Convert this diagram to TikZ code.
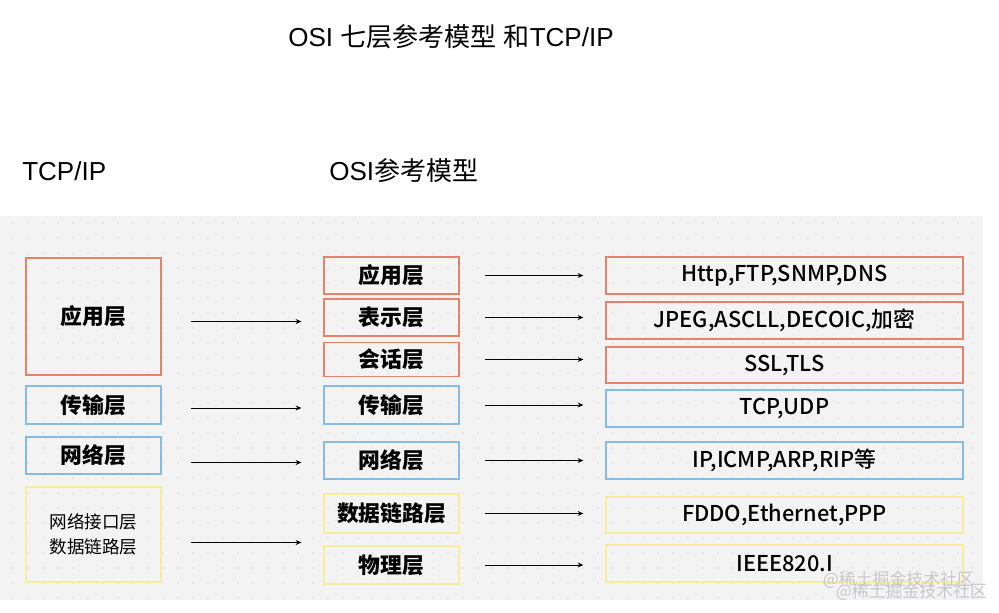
\documentclass[tikz,border=0pt]{standalone}
\usepackage{fontspec}
\setmainfont{Liberation Sans}
\newfontfamily\cjk{Noto Sans CJK SC}
\newfontfamily\cjkmed{Noto Sans CJK SC Medium}
\usetikzlibrary{arrows.meta, positioning}
\definecolor{LayerRed}{HTML}{E5826C}
\definecolor{LayerBlue}{HTML}{86BBE6}
\definecolor{LayerYellow}{HTML}{F6EC9C}
\definecolor{PanelGray}{HTML}{F3F3F4}
\definecolor{DotGray}{HTML}{C9C9CD}
\definecolor{MarkGray}{HTML}{C8C8CC}
\tikzset{
    % Layer boxes - sharp corners, no fill
    tcpbox/.style={
        rectangle,
        line width=0.9pt,
        minimum width=3.375cm,
        inner sep=0pt,
        align=center,
        font=\cjk\bfseries\fontsize{15.5}{19}\selectfont
    },
    osibox/.style={
        rectangle,
        line width=0.9pt,
        minimum width=3.375cm,
        minimum height=0.925cm,
        inner sep=0pt,
        font=\cjk\bfseries\fontsize{15.5}{19}\selectfont
    },
    protobox/.style={
        rectangle,
        line width=0.9pt,
        minimum width=8.925cm,
        minimum height=0.925cm,
        inner sep=0pt,
        font=\cjkmed\fontsize{15.5}{18}\selectfont
    },
    % Arrow styles
    maparrow/.style={
        -{Stealth[length=4pt,width=3.5pt]},
        line width=0.6pt,
        black
    },
    heading/.style={
        font=\fontsize{18.5}{22}\selectfont,
        inner sep=0pt
    }
}
\begin{document}
\begin{tikzpicture}[x=0.025cm, y=-0.025cm]
    \useasboundingbox (0,0) rectangle (999,612);

    % Headings
    \node[heading] (title) at (451,37) {OSI {\cjk 七层参考模型} {\cjk 和}TCP/IP};
    \node[heading, anchor=west] (tcphead) at (22,171) {TCP/IP};
    \node[heading, anchor=west] (osihead) at (329,171) {OSI{\cjk 参考模型}};

    % Panel with dot grid
    \fill[PanelGray] (0,216) rectangle (983,600);
    \fill[DotGray] foreach \x in {13,28,...,973} {
        foreach \y in {223,238,...,598} { (\x,\y) circle (0.6) }
    };

    % TCP/IP column
    \node[tcpbox, draw=LayerRed, minimum height=2.925cm] (tapp) at (93.5,316.5) {应用层};
    \node[tcpbox, draw=LayerBlue, minimum height=0.95cm] (ttrans) at (93.5,405) {传输层};
    \node[tcpbox, draw=LayerBlue, minimum height=0.925cm] (tnet) at (93.5,455.5) {网络层};
    \node[tcpbox, draw=LayerYellow, minimum height=2.375cm,
          font=\cjk\fontsize{12.5}{18}\selectfont] (tlink) at (93.5,534.5) {网络接口层\\数据链路层};

    % OSI column
    \node[osibox, draw=LayerRed] (oapp) at (391.5,275.5) {应用层};
    \node[osibox, draw=LayerRed] (opres) at (391.5,317.5) {表示层};
    \node[osibox, draw=LayerRed, minimum height=0.85cm] (osess) at (391.5,359.5) {会话层};
    \node[osibox, draw=LayerBlue, minimum height=0.95cm] (otrans) at (391.5,405) {传输层};
    \node[osibox, draw=LayerBlue] (onet) at (391.5,460.5) {网络层};
    \node[osibox, draw=LayerYellow, minimum height=0.975cm] (olink) at (391.5,513.5) {数据链路层};
    \node[osibox, draw=LayerYellow, minimum height=0.95cm] (ophys) at (391.5,565) {物理层};

    % Protocol column
    \node[protobox, draw=LayerRed] (papp) at (784.5,275.5) {Http,FTP,SNMP,DNS};
    \node[protobox, draw=LayerRed] (ppres) at (784.5,320.5) {JPEG,ASCLL,DECOIC,加密};
    \node[protobox, draw=LayerRed, minimum height=0.9cm] (psess) at (784.5,365) {SSL,TLS};
    \node[protobox, draw=LayerBlue] (ptrans) at (784.5,408.5) {TCP,UDP};
    \node[protobox, draw=LayerBlue] (pnet) at (784.5,460.5) {IP,ICMP,ARP,RIP等};
    \node[protobox, draw=LayerYellow, minimum height=0.9cm] (plink) at (784.5,515) {FDDO,Ethernet,PPP};
    \node[protobox, draw=LayerYellow] (pphys) at (784.5,563.5) {IEEE820.I};

    % TCP/IP -> OSI
    \foreach \a/\b/\dy in {tapp/opres/5, ttrans/otrans/3, tnet/onet/7, tlink/ophys/8} {
        \draw[maparrow, shorten <=0.725cm, shorten >=0.55cm]
            ([yshift=-\dy*0.025cm]\a.east) -- ([yshift=-\dy*0.025cm]\a.east -| \b.west);
    }

    % OSI -> protocols
    \foreach \a/\b in {oapp/papp, opres/ppres, osess/psess, otrans/ptrans, onet/pnet, olink/plink, ophys/pphys} {
        \draw[maparrow, shorten <=0.625cm, shorten >=0.55cm] (\a.east) -- (\a.east -| \b.west);
    }

    % Watermark
    \node[MarkGray, font=\cjk\fontsize{12}{14}\selectfont, anchor=west] (mark1) at (818,580) {@稀土掘金技术社区};
    \node[MarkGray, font=\cjk\fontsize{12}{14}\selectfont, anchor=west] (mark2) at (831,592) {@稀土掘金技术社区};
\end{tikzpicture}
\end{document}
